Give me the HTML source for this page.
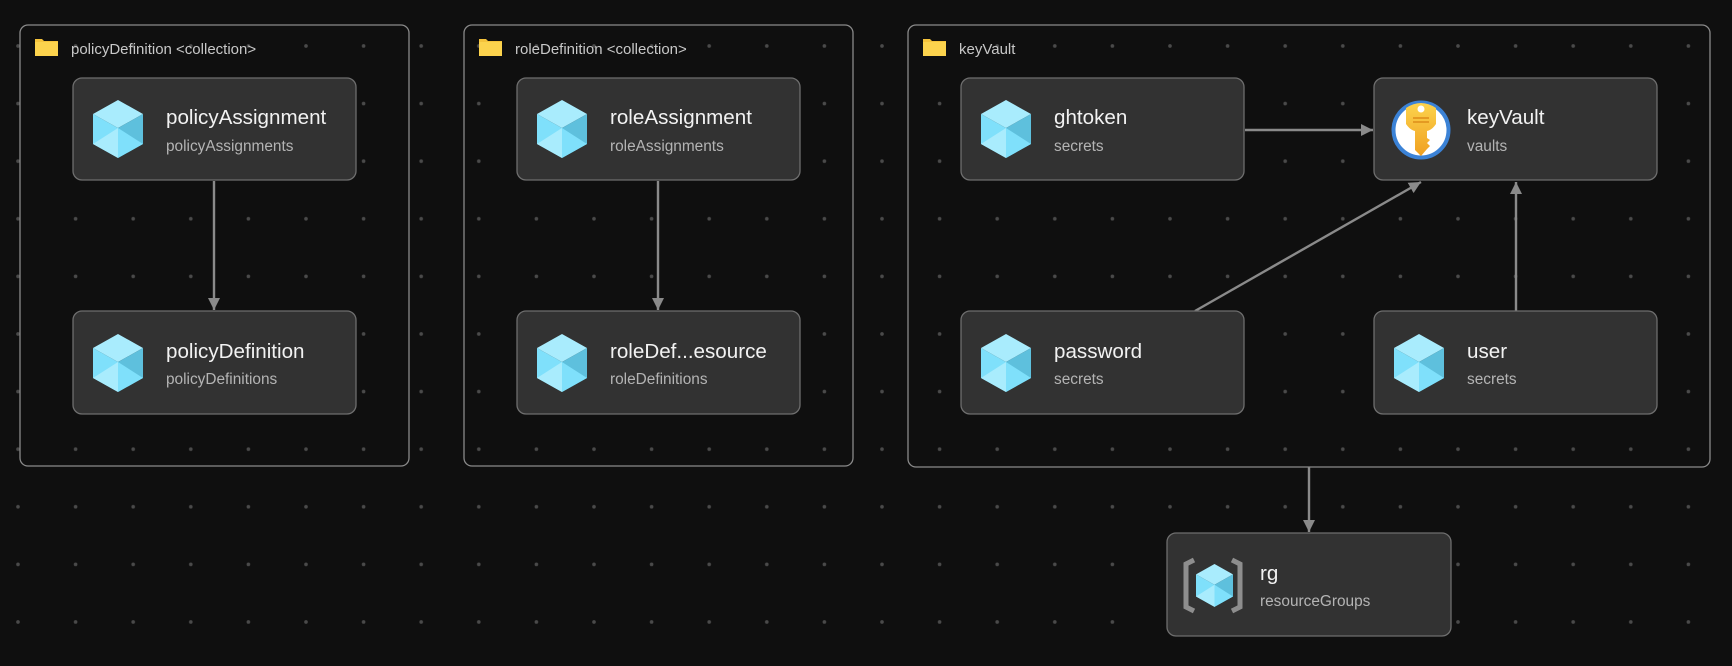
<!DOCTYPE html>
<html><head><meta charset="utf-8"><style>
html,body{margin:0;padding:0;background:#0f0f0f;}
svg{display:block;font-family:"Liberation Sans",sans-serif;}
</style></head><body>
<svg width="1732" height="666" viewBox="0 0 1732 666" xmlns="http://www.w3.org/2000/svg">
<defs>
<pattern id="dots" x="18" y="46" width="57.6" height="57.6" patternUnits="userSpaceOnUse">
<circle cx="0" cy="0" r="1.8" fill="#4a4a4a"/><circle cx="57.6" cy="0" r="1.8" fill="#4a4a4a"/><circle cx="0" cy="57.6" r="1.8" fill="#4a4a4a"/><circle cx="57.6" cy="57.6" r="1.8" fill="#4a4a4a"/>
</pattern>
<marker id="ar" markerWidth="14" markerHeight="14" refX="12" refY="6" orient="auto" markerUnits="userSpaceOnUse"><path d="M0,0 L12,6 L0,12 z" fill="#8a8a8a"/></marker>
<linearGradient id="kg" x1="0" y1="0" x2="0" y2="1"><stop offset="0" stop-color="#fcd34d"/><stop offset="1" stop-color="#f0a020"/></linearGradient>
<g id="cube">
<polygon points="25,0 50,14 25,28 0,14" fill="#a9ecfd"/>
<polygon points="0,14 25,28 25,58 0,44" fill="#7fe0fb"/>
<polygon points="50,14 25,28 25,58 50,44" fill="#5ec0dd"/>
<polygon points="0,44 25,28 25,58" fill="#a9ecfd"/>
<polygon points="50,44 25,28 25,58" fill="#7fe0fb"/>
</g>
<g id="folder">
<path d="M0,2 h7 l2,2 h14 v15 h-23 z" fill="#f5c33b"/>
<rect x="0" y="5" width="23" height="14" fill="#fcd34d"/>
</g>
</defs>
<rect width="1732" height="666" fill="url(#dots)"/>

<rect x="20" y="25" width="389" height="441" rx="8" fill="none" stroke="#8a8a8a" stroke-width="1.3"/>
<rect x="464" y="25" width="389" height="441" rx="8" fill="none" stroke="#8a8a8a" stroke-width="1.3"/>
<rect x="908" y="25" width="802" height="442" rx="8" fill="none" stroke="#8a8a8a" stroke-width="1.3"/>
<use href="#folder" x="35" y="37"/>
<text x="71" y="54" fill="#c8c8c8" font-size="15">policyDefinition &lt;collection&gt;</text>
<use href="#folder" x="479" y="37"/>
<text x="515" y="54" fill="#c8c8c8" font-size="15">roleDefinition &lt;collection&gt;</text>
<use href="#folder" x="923" y="37"/>
<text x="959" y="54" fill="#c8c8c8" font-size="15">keyVault</text>

<g stroke="#8a8a8a" stroke-width="2.4" fill="none">
<line x1="214" y1="181" x2="214" y2="310" marker-end="url(#ar)"/>
<line x1="658" y1="181" x2="658" y2="310" marker-end="url(#ar)"/>
<line x1="1245" y1="130" x2="1373" y2="130" marker-end="url(#ar)"/>
<line x1="1195" y1="311" x2="1421" y2="182" marker-end="url(#ar)"/>
<line x1="1516" y1="311" x2="1516" y2="182" marker-end="url(#ar)"/>
<line x1="1309" y1="467" x2="1309" y2="532" marker-end="url(#ar)"/>
</g>

<g font-size="20.6">
<rect x="73" y="78" width="283" height="102" rx="9" fill="#323232" stroke="#6e6e6e" stroke-width="1.3"/>
<use href="#cube" x="93" y="100"/>
<text x="166" y="124" fill="#f2f2f2">policyAssignment</text>
<text x="166" y="151" fill="#b4b4b4" font-size="15.4">policyAssignments</text>

<rect x="73" y="311" width="283" height="103" rx="9" fill="#323232" stroke="#6e6e6e" stroke-width="1.3"/>
<use href="#cube" x="93" y="334"/>
<text x="166" y="358" fill="#f2f2f2">policyDefinition</text>
<text x="166" y="384" fill="#b4b4b4" font-size="15.4">policyDefinitions</text>

<rect x="517" y="78" width="283" height="102" rx="9" fill="#323232" stroke="#6e6e6e" stroke-width="1.3"/>
<use href="#cube" x="537" y="100"/>
<text x="610" y="124" fill="#f2f2f2">roleAssignment</text>
<text x="610" y="151" fill="#b4b4b4" font-size="15.4">roleAssignments</text>

<rect x="517" y="311" width="283" height="103" rx="9" fill="#323232" stroke="#6e6e6e" stroke-width="1.3"/>
<use href="#cube" x="537" y="334"/>
<text x="610" y="358" fill="#f2f2f2">roleDef...esource</text>
<text x="610" y="384" fill="#b4b4b4" font-size="15.4">roleDefinitions</text>

<rect x="961" y="78" width="283" height="102" rx="9" fill="#323232" stroke="#6e6e6e" stroke-width="1.3"/>
<use href="#cube" x="981" y="100"/>
<text x="1054" y="124" fill="#f2f2f2">ghtoken</text>
<text x="1054" y="151" fill="#b4b4b4" font-size="15.4">secrets</text>

<rect x="1374" y="78" width="283" height="102" rx="9" fill="#323232" stroke="#6e6e6e" stroke-width="1.3"/>
<circle cx="1421" cy="130" r="27.5" fill="#fff" stroke="#3b82d6" stroke-width="4"/>
<path d="M1406,108 Q1421,98 1436,108 L1436,124 Q1432,130 1427,131 L1427,138 L1430,140 L1427,143 L1430,146 L1427,149 L1421,156 L1415,150 L1415,131 Q1410,130 1406,124 Z" fill="url(#kg)"/>
<circle cx="1421" cy="109" r="3.5" fill="#fff"/>
<line x1="1413" y1="118" x2="1429" y2="118" stroke="#e0901c" stroke-width="1.6"/>
<line x1="1413" y1="122" x2="1429" y2="122" stroke="#e0901c" stroke-width="1.6"/>
<text x="1467" y="124" fill="#f2f2f2">keyVault</text>
<text x="1467" y="151" fill="#b4b4b4" font-size="15.4">vaults</text>

<rect x="961" y="311" width="283" height="103" rx="9" fill="#323232" stroke="#6e6e6e" stroke-width="1.3"/>
<use href="#cube" x="981" y="334"/>
<text x="1054" y="358" fill="#f2f2f2">password</text>
<text x="1054" y="384" fill="#b4b4b4" font-size="15.4">secrets</text>

<rect x="1374" y="311" width="283" height="103" rx="9" fill="#323232" stroke="#6e6e6e" stroke-width="1.3"/>
<use href="#cube" x="1394" y="334"/>
<text x="1467" y="358" fill="#f2f2f2">user</text>
<text x="1467" y="384" fill="#b4b4b4" font-size="15.4">secrets</text>

<rect x="1167" y="533" width="284" height="103" rx="9" fill="#323232" stroke="#6e6e6e" stroke-width="1.3"/>
<path d="M1194,560 l-8,4 v43 l8,4" stroke="#8e8e8e" stroke-width="5" fill="none"/>
<path d="M1232,560 l8,4 v43 l-8,4" stroke="#8e8e8e" stroke-width="5" fill="none"/>
<g transform="translate(1196,564) scale(0.74)"><use href="#cube"/></g>
<text x="1260" y="580" fill="#f2f2f2">rg</text>
<text x="1260" y="606" fill="#b4b4b4" font-size="15.4">resourceGroups</text>
</g>
</svg>
</body></html>
